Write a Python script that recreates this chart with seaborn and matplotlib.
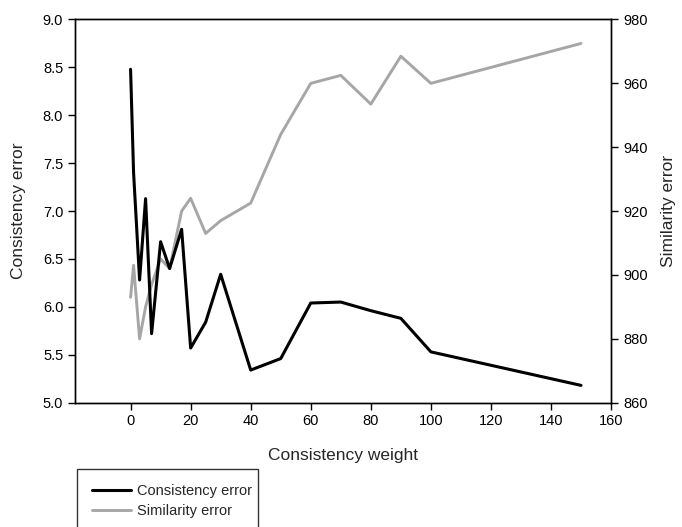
import numpy as np
import pandas as pd
import matplotlib
matplotlib.use("Agg")
import matplotlib.pyplot as plt
import seaborn as sns

# values
weight = [0, 1, 3, 5, 7, 10, 13, 17, 20, 25, 30, 40, 50, 60, 70, 80, 90, 100, 150]
consistency_error = [8.48, 7.40, 6.28, 7.13, 5.72, 6.68, 6.40, 6.81, 5.57, 5.84,
                     6.34, 5.34, 5.46, 6.04, 6.05, 5.96, 5.88, 5.53, 5.18]
similarity_error = [893, 903, 880, 890, 897, 905, 902, 920, 924, 913,
                    917, 922.5, 944, 960, 962.5, 953.5, 968.5, 960, 972.5]

df = pd.DataFrame({"weight": weight,
                   "consistency": consistency_error,
                   "similarity": similarity_error})

sns.set_style("ticks")
plt.rcParams["font.family"] = ["Liberation Sans", "DejaVu Sans"]

fig = plt.figure(figsize=(6.82, 5.27), dpi=100)
ax = fig.add_axes([0.110, 0.236, 0.786, 0.727])
ax2 = ax.twinx()

gray = "#a6a6a6"
sns.lineplot(data=df, x="weight", y="similarity", ax=ax2, color=gray,
             linewidth=2.1, label="Similarity error", legend=False)
sns.lineplot(data=df, x="weight", y="consistency", ax=ax, color="black",
             linewidth=2.2, label="Consistency error", legend=False)

# black line above the gray one
ax.set_zorder(ax2.get_zorder() + 1)
ax.patch.set_visible(False)

ax.set_xlim(-18.5, 160)
ax.set_ylim(5.0, 9.0)
ax2.set_ylim(860, 980)
ax.set_xticks(np.arange(0, 161, 20))
ax.set_yticks(np.arange(5.0, 9.01, 0.5))
ax.set_yticklabels([f"{v:.1f}" for v in np.arange(5.0, 9.01, 0.5)])
ax2.set_yticks(np.arange(860, 981, 20))

for a in (ax, ax2):
    for s in a.spines.values():
        s.set_visible(True)
        s.set_linewidth(1.0)
        s.set_color("black")
    a.tick_params(direction="out", length=5, width=1.0, labelsize=10.5,
                  colors="black")

ax.set_xlabel("Consistency weight", fontsize=12.5, labelpad=14)
ax.set_ylabel("Consistency error", fontsize=12.5, labelpad=12)
ax2.set_ylabel("Similarity error", fontsize=12.5, labelpad=10)

h1, l1 = ax.get_legend_handles_labels()
h2, l2 = ax2.get_legend_handles_labels()
leg = fig.legend(h1 + h2, l1 + l2, loc="upper left",
                 bbox_to_anchor=(0.113, 0.0, 0.265, 0.110),
                 bbox_transform=fig.transFigure, mode="expand",
                 fontsize=10.5, frameon=True, fancybox=False,
                 edgecolor="black", handlelength=2.7, handletextpad=0.4,
                 borderpad=1.0, labelspacing=0.45, borderaxespad=0)
leg.get_frame().set_linewidth(1.0)

fig.savefig("out.png", dpi=100)
